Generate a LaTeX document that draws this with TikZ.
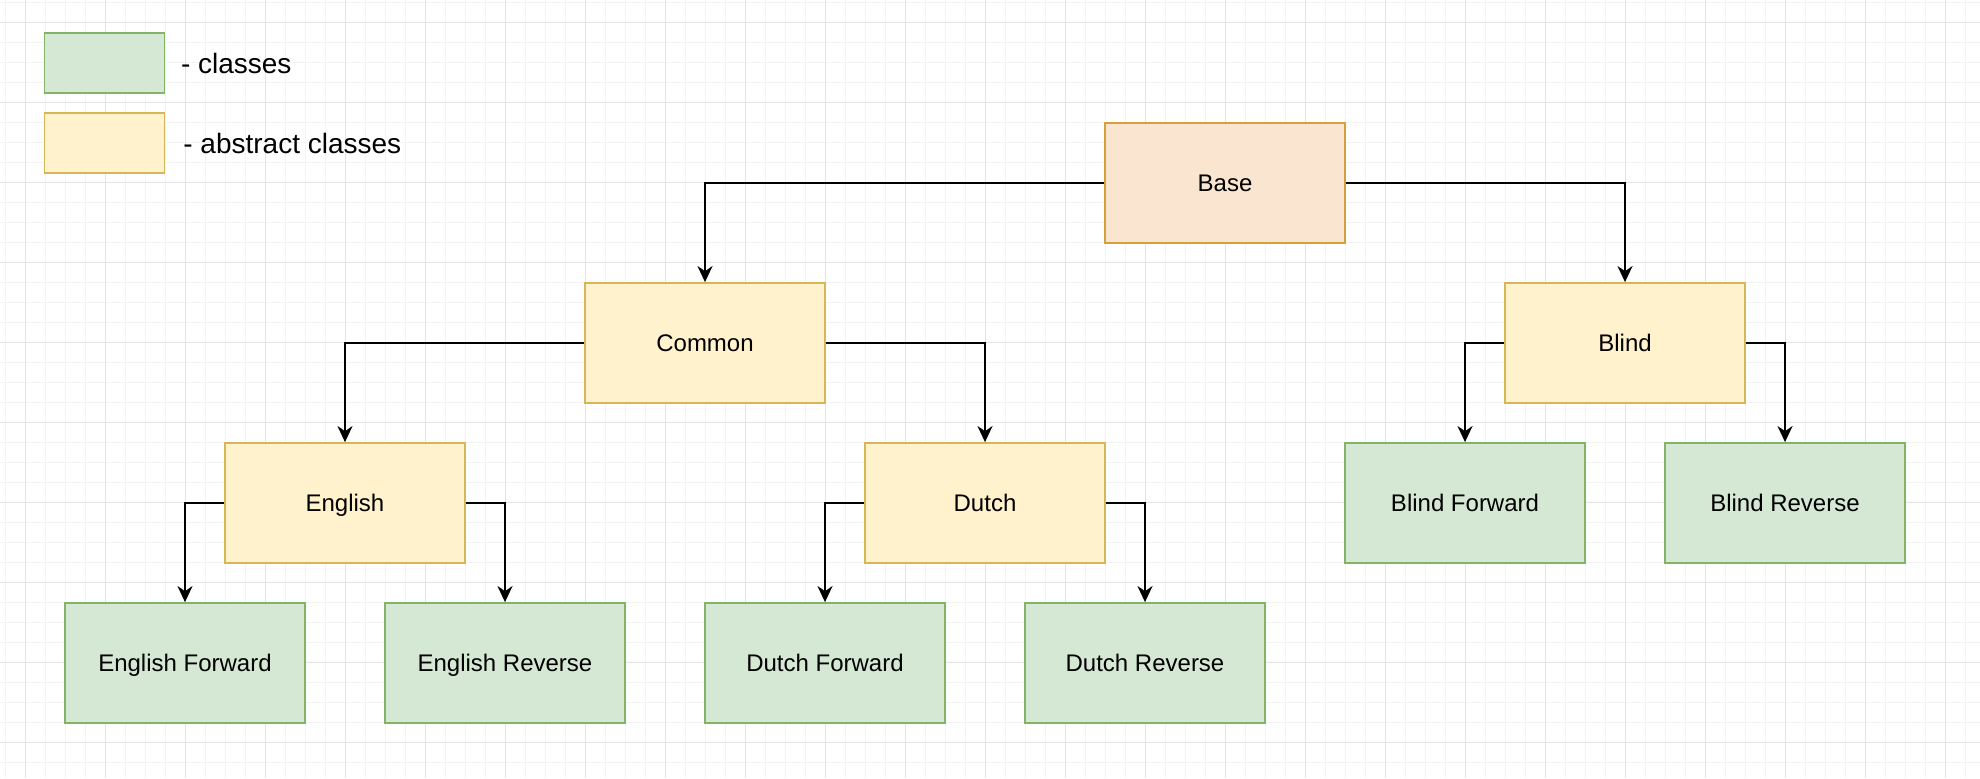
\documentclass[tikz,border=0pt]{standalone}
\usepackage{fontspec}
\setmainfont{Liberation Sans}
\usetikzlibrary{arrows.meta}
\definecolor{gfill}{HTML}{D5E8D4}
\definecolor{gline}{HTML}{82B366}
\definecolor{yfill}{HTML}{FFF2CC}
\definecolor{yline}{HTML}{D6B656}
\definecolor{ofill}{HTML}{FAE6D0}
\definecolor{oline}{HTML}{D4A03A}
\definecolor{gridminor}{HTML}{F3F3F3}
\definecolor{gridmajor}{HTML}{E4E4E4}
\begin{document}
\begin{tikzpicture}[x=1pt,y=-1pt,
  box/.style={draw, line width=0.9pt, minimum width=120pt, minimum height=60pt, inner sep=0pt, text height=8.6pt, text depth=0pt, font=\fontsize{12}{14}\selectfont},
  cls/.style={box, fill=gfill, draw=gline},
  abst/.style={box, fill=yfill, draw=yline},
  basebox/.style={box, fill=ofill, draw=oline},
  legbox/.style={draw, line width=0.9pt, minimum width=60pt, minimum height=30pt, inner sep=0pt},
  legtext/.style={anchor=west, inner sep=0pt, font=\fontsize{14}{16}\selectfont},
  arr/.style={draw=black, line width=0.9pt, -{Stealth[length=8pt,width=7.5pt,inset=2.5pt]}},
  minorline/.style={draw=gridminor, line width=0.5pt},
  majorline/.style={draw=gridmajor, line width=0.5pt}
]
\useasboundingbox (0,0) rectangle (990,389);
\fill[white] (0,0) rectangle (990,389);
% grid
\foreach \i in {0,...,98} {\draw[minorline] (2.5+10*\i,0) -- (2.5+10*\i,389);}
\foreach \i in {0,...,38} {\draw[minorline] (0,1.4+10*\i) -- (990,1.4+10*\i);}
\foreach \i in {0,...,24} {\draw[majorline] (12.5+40*\i,0) -- (12.5+40*\i,389);}
\foreach \i in {0,...,9} {\draw[majorline] (0,11.4+40*\i) -- (990,11.4+40*\i);}

% legend
\node[legbox, fill=gfill, draw=gline] (legc) at (52.25,31.5) {};
\node[legbox, fill=yfill, draw=yline] (lega) at (52.25,71.5) {};
\node[legtext] (legct) at (90.3,31.5) {- classes};
\node[legtext] (legat) at (91.5,71.5) {- abstract classes};

% nodes
\node[basebox] (base) at (612.5,91.5) {Base};
\node[abst] (common) at (352.5,171.5) {Common};
\node[abst] (blind) at (812.5,171.5) {Blind};
\node[abst] (english) at (172.5,251.5) {English};
\node[abst] (dutch) at (492.5,251.5) {Dutch};
\node[cls] (blindf) at (732.5,251.5) {Blind Forward};
\node[cls] (blindr) at (892.5,251.5) {Blind Reverse};
\node[cls] (engf) at (92.5,331.5) {English Forward};
\node[cls] (engr) at (252.5,331.5) {English Reverse};
\node[cls] (dutf) at (412.5,331.5) {Dutch Forward};
\node[cls] (dutr) at (572.5,331.5) {Dutch Reverse};

% connectors
\draw[arr] (base.west) -| (common.north);
\draw[arr] (base.east) -| (blind.north);
\draw[arr] (common.west) -| (english.north);
\draw[arr] (common.east) -| (dutch.north);
\draw[arr] (english.west) -| (engf.north);
\draw[arr] (english.east) -| (engr.north);
\draw[arr] (dutch.west) -| (dutf.north);
\draw[arr] (dutch.east) -| (dutr.north);
\draw[arr] (blind.west) -| (blindf.north);
\draw[arr] (blind.east) -| (blindr.north);
\end{tikzpicture}
\end{document}
